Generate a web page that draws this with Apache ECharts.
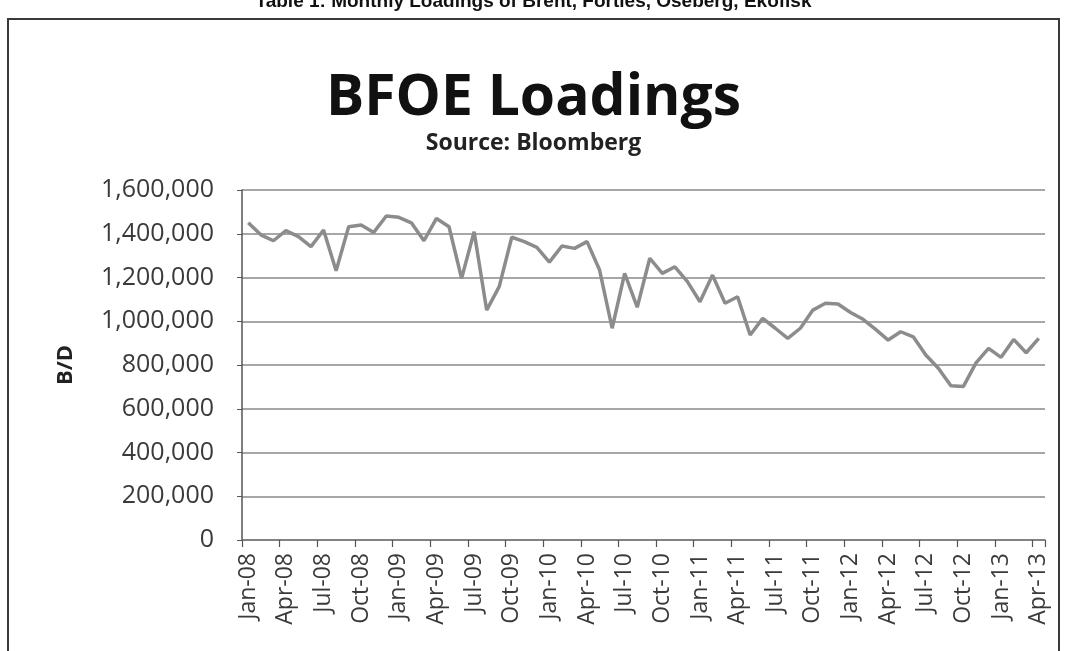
<!DOCTYPE html>
<html>
<head>
<meta charset="utf-8">
<script src="https://cdn.jsdelivr.net/npm/echarts@6/dist/echarts.min.js"></script>
<style>
html,body{margin:0;padding:0;background:#fff;}
#chart{width:1067px;height:651px;}
</style>
</head>
<body>
<div id="chart"></div>
<script>
const categories = [
  "Jan-08","Feb-08","Mar-08","Apr-08","May-08","Jun-08","Jul-08","Aug-08","Sep-08","Oct-08","Nov-08","Dec-08",
  "Jan-09","Feb-09","Mar-09","Apr-09","May-09","Jun-09","Jul-09","Aug-09","Sep-09","Oct-09","Nov-09","Dec-09",
  "Jan-10","Feb-10","Mar-10","Apr-10","May-10","Jun-10","Jul-10","Aug-10","Sep-10","Oct-10","Nov-10","Dec-10",
  "Jan-11","Feb-11","Mar-11","Apr-11","May-11","Jun-11","Jul-11","Aug-11","Sep-11","Oct-11","Nov-11","Dec-11",
  "Jan-12","Feb-12","Mar-12","Apr-12","May-12","Jun-12","Jul-12","Aug-12","Sep-12","Oct-12","Nov-12","Dec-12",
  "Jan-13","Feb-13","Mar-13","Apr-13"
];
const loadings = [
  1450000,1395000,1368000,1414000,1387000,1341000,1417000,1231000,1432000,1440000,1406000,1481000,
  1475000,1450000,1368000,1470000,1432000,1196000,1409000,1051000,1158000,1384000,1364000,1338000,
  1270000,1344000,1333000,1364000,1234000,968000,1219000,1064000,1288000,1219000,1249000,1181000,
  1089000,1211000,1082000,1112000,937000,1013000,968000,922000,968000,1051000,1082000,1079000,
  1040000,1009000,963000,914000,952000,929000,846000,785000,705000,702000,810000,876000,
  835000,917000,856000,922000
];
const chartTitle = "BFOE Loadings";
const chartSubtitle = "Source: Bloomberg";
const tableCaption = "Table 1: Monthly Loadings of Brent, Forties, Oseberg, Ekofisk";
const yAxisName = "B/D";

const chart = echarts.init(document.getElementById('chart'));
const fmt = v => v.toString().replace(/\B(?=(\d{3})+(?!\d))/g, ",");
chart.setOption({
  backgroundColor: '#ffffff',
  animation: false,
  graphic: [
    { type: 'rect', shape: { x: 8, y: 19, width: 1051, height: 660 },
      style: { fill: 'none', stroke: '#3a3a3a', lineWidth: 2 }, z: 0 },
    { type: 'text', left: 'center', top: -8,
      style: { text: tableCaption, font: 'bold 19px "Liberation Sans", Arial, sans-serif', fill: '#111' } }
  ],
  title: [
    { text: chartTitle, left: 'center', top: 65,
      textStyle: { fontFamily: '"Open Sans"', fontWeight: 'bold', fontSize: 57, color: '#111' } },
    { text: chartSubtitle, left: 'center', top: 127,
      textStyle: { fontFamily: '"Open Sans"', fontWeight: 'bold', fontSize: 23, color: '#222' } }
  ],
  grid: { left: 242, right: 22, top: 190, bottom: 111, containLabel: false },
  xAxis: {
    type: 'category',
    data: categories,
    boundaryGap: true,
    axisLine: { show: true, lineStyle: { color: '#777', width: 1.5 } },
    axisTick: { show: true, interval: 2, length: 7, lineStyle: { color: '#555', width: 1.2 } },
    axisLabel: { interval: 2, rotate: 90, margin: 13, fontFamily: '"Open Sans"', fontSize: 23, color: '#3a3a3a' },
    splitLine: { show: false }
  },
  yAxis: {
    type: 'value',
    min: 0, max: 1600000, interval: 200000,
    name: yAxisName,
    nameLocation: 'middle',
    nameGap: 165,
    nameTextStyle: { fontFamily: '"Open Sans"', fontWeight: 'bold', fontSize: 22, color: '#222' },
    axisLine: { show: true, lineStyle: { color: '#555', width: 1.5 } },
    axisTick: { show: true, length: 5, lineStyle: { color: '#555' } },
    axisLabel: { formatter: fmt, margin: 28, fontFamily: '"Open Sans"', fontSize: 25, color: '#3a3a3a' },
    splitLine: { show: true, lineStyle: { color: '#8a8a8a', width: 1.5 } }
  },
  series: [{
    type: 'line',
    data: loadings,
    symbol: 'none',
    smooth: false,
    lineStyle: { color: '#8c8c8c', width: 3.5 }
  }]
});
</script>
</body>
</html>
